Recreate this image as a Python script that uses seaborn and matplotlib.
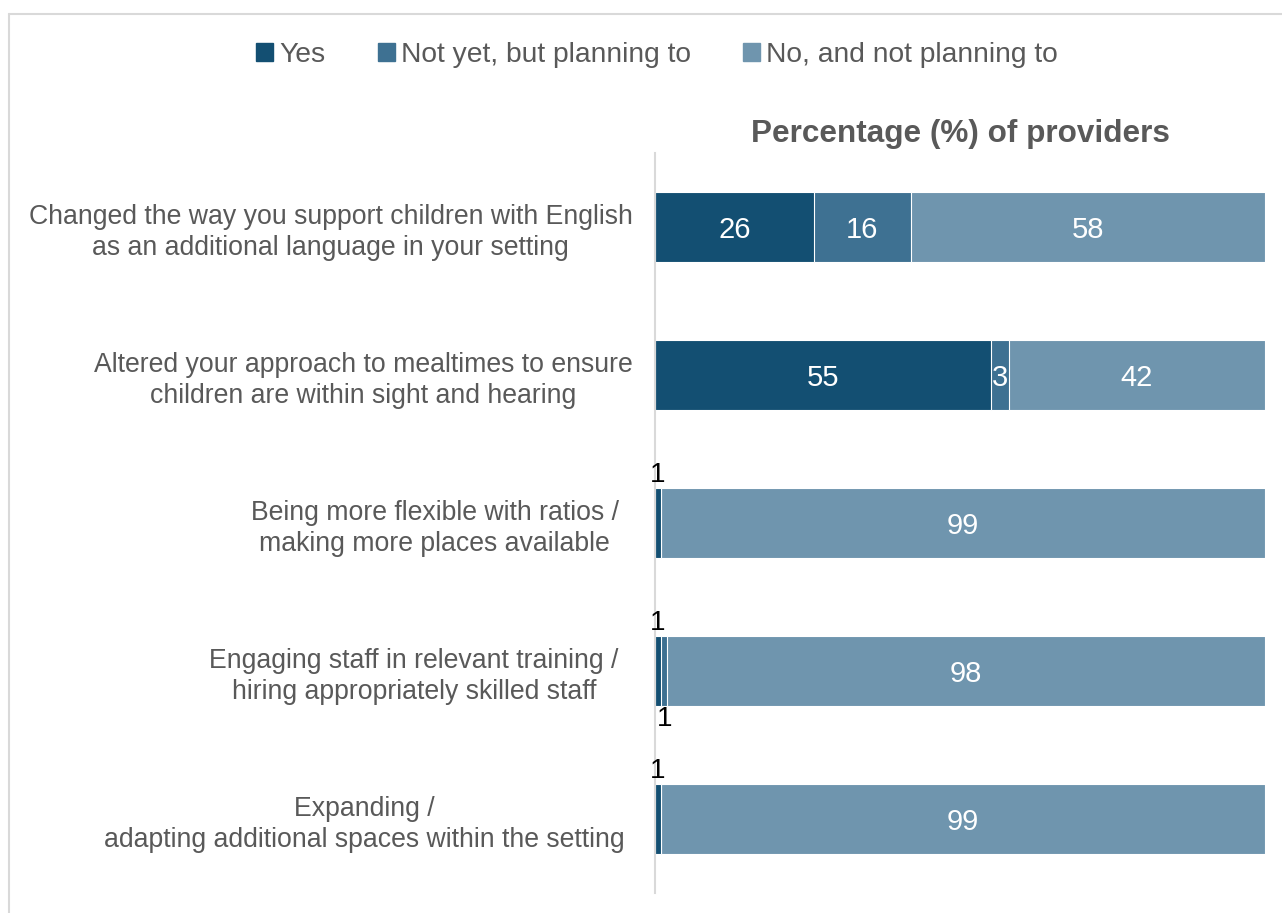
import matplotlib
matplotlib.use("Agg")
import matplotlib.pyplot as plt
from matplotlib.transforms import ScaledTranslation
from matplotlib.lines import Line2D
import seaborn as sns
import pandas as pd
import numpy as np

# --- data ---------------------------------------------------------------
categories = [
    "Changed the way you support children with English\nas an additional language in your setting",
    "Altered your approach to mealtimes to ensure\nchildren are within sight and hearing",
    "Being more flexible with ratios /\nmaking more places available",
    "Engaging staff in relevant training /\nhiring appropriately skilled staff",
    "Expanding /\nadapting additional spaces within the setting",
]
series = ["Yes", "Not yet, but planning to", "No, and not planning to"]
yes = [26, 55, 1, 1, 1]
planning = [16, 3, 0, 1, 0]
not_planning = [58, 42, 99, 98, 99]
title = "Percentage (%) of providers"

colors = ["#134F72", "#3E7192", "#6F95AE"]
gray = "#595959"

sns.set_theme(style="white")
plt.rcParams["font.family"] = ["Liberation Sans", "DejaVu Sans"]

values = np.array([yes, planning, not_planning])
cum = values.cumsum(axis=0)

fig = plt.figure(figsize=(12.82, 9.13), dpi=100)
ax = fig.add_axes([655 / 1282, 1 - 893 / 913, 610 / 1282, 740 / 913])

# stacked bars drawn back-to-front as cumulative totals
for i in reversed(range(len(series))):
    df = pd.DataFrame({"category": categories, "value": cum[i]})
    sns.barplot(data=df, x="value", y="category", orient="h", color=colors[i],
                saturation=1, width=0.47, edgecolor="white", linewidth=0.8, ax=ax)

ax.set_xlim(0, 100)
ax.set_ylim(4.5, -0.5)
ax.set_xlabel("")
ax.set_ylabel("")
ax.set_xticks([])
for s in ["top", "right", "bottom"]:
    ax.spines[s].set_visible(False)
ax.spines["left"].set_color("#D9D9D9")
ax.spines["left"].set_linewidth(1.5)
ax.tick_params(axis="y", length=0, pad=16, labelsize=19.2, labelcolor=gray)
for lab, shift in zip(ax.get_yticklabels(), [0, 0, 14, 14, 8]):
    lab.set_multialignment("center")
    lab.set_linespacing(1.27)
    lab.set_transform(lab.get_transform() + ScaledTranslation(-shift / 100, 0, fig.dpi_scale_trans))

ax.set_title(title, fontsize=22.7, fontweight="bold", color=gray, pad=8)

# value labels
half = 0.47 / 2
for r in range(len(categories)):
    for i in range(len(series)):
        v = values[i, r]
        if v == 0:
            continue
        xc = cum[i, r] - v / 2
        if v >= 3:
            ax.text(xc, r, f"{v}", ha="center", va="center_baseline", color="white", fontsize=21)
        elif i == 0:
            ax.text(xc, r - half, f"{v}", ha="center", va="bottom", color="black", fontsize=20)
        else:
            ax.text(xc, r + half, f"{v}", ha="center", va="top", color="black", fontsize=20)

handles = [plt.Rectangle((0, 0), 1, 1, color=c) for c in colors]
leg = fig.legend(handles, series, loc="center", bbox_to_anchor=(657 / 1282, 1 - 55 / 913), ncol=3,
                 frameon=False, fontsize=20.3, handlelength=0.6, handleheight=0.6,
                 handletextpad=0.22, columnspacing=1.85)
for t in leg.get_texts():
    t.set_color(gray)

# outer chart frame
fig.add_artist(Line2D([9 / 1282, 1], [1 - 14 / 913, 1 - 14 / 913], color="#D9D9D9", lw=1.5))
fig.add_artist(Line2D([9 / 1282, 9 / 1282], [0, 1 - 14 / 913], color="#D9D9D9", lw=1.5))

fig.savefig("out.png", dpi=100, facecolor="white")
